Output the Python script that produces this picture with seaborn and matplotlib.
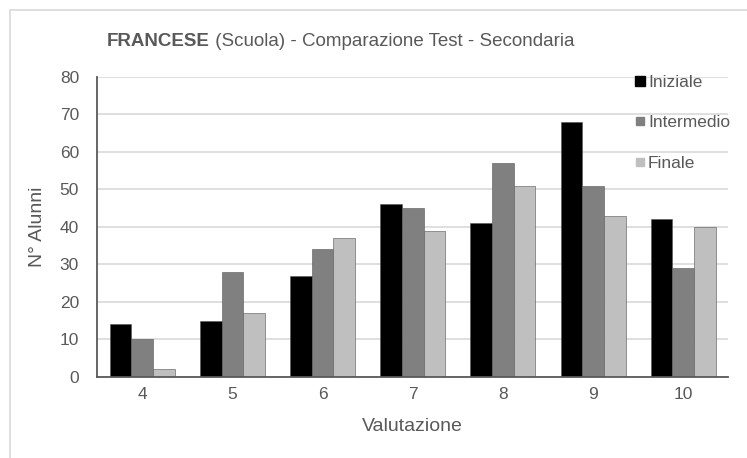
import pandas as pd
import matplotlib.pyplot as plt
import matplotlib.patches as mpatches
from matplotlib.lines import Line2D
import seaborn as sns

# Data
valutazioni = ["4", "5", "6", "7", "8", "9", "10"]
iniziale = [14, 15, 27, 46, 41, 68, 42]
intermedio = [10, 28, 34, 45, 57, 51, 29]
finale = [2, 17, 37, 39, 51, 43, 40]
serie = ["Iniziale", "Intermedio", "Finale"]
colori = ["#000000", "#808080", "#bfbfbf"]

df = pd.DataFrame({
    "Valutazione": valutazioni * 3,
    "Alunni": iniziale + intermedio + finale,
    "Test": [s for s in serie for _ in valutazioni],
})

sns.set_style("white")
plt.rcParams["font.family"] = ["Liberation Sans", "DejaVu Sans"]
txt = "#595959"

fig = plt.figure(figsize=(7.47, 4.58), dpi=100)
ax = fig.add_axes([0.130, 0.177, 0.845, 0.655])

# outer chart border (cropped on right/bottom like the reference)
fig.patches.append(mpatches.Rectangle((10 / 747, -0.1), 1.0, 1.1 - 10 / 458,
                                      transform=fig.transFigure, fill=False,
                                      edgecolor="#d9d9d9", linewidth=1.2))

sns.barplot(data=df, x="Valutazione", y="Alunni", hue="Test", order=valutazioni,
            hue_order=serie, palette=colori, width=0.72, ax=ax,
            edgecolor="#555555", linewidth=0.4, legend=False)

ax.set_ylim(0, 80)
ax.set_yticks(range(0, 81, 10))
ax.yaxis.grid(True, color="#d9d9d9", linewidth=1.2)
ax.set_axisbelow(True)
for s in ["top", "right"]:
    ax.spines[s].set_visible(False)
for s in ["left", "bottom"]:
    ax.spines[s].set_color("#595959")
    ax.spines[s].set_linewidth(1.3)
ax.tick_params(axis="both", length=0, labelsize=12.5, labelcolor=txt, pad=7)
ax.tick_params(axis="y", pad=13)
ax.set_xlabel("Valutazione", fontsize=14, color=txt, labelpad=12)
ax.set_ylabel("N° Alunni", fontsize=14, color=txt, labelpad=10)

handles = [Line2D([], [], marker="s", linestyle="", color=c, markersize=7 if i == 0 else 6)
           for i, c in enumerate(colori)]
leg = ax.legend(handles, serie, loc="upper left", bbox_to_anchor=(0.837, 1.03),
                frameon=False, fontsize=12.5, labelspacing=1.45, handletextpad=0.0,
                handlelength=0.9, borderaxespad=0)
for t in leg.get_texts():
    t.set_color(txt)

# title: bold first word, regular rest
t1 = fig.text(107 / 747, 1 - 41 / 458, "FRANCESE", fontsize=13.5, color=txt,
              fontweight="bold", va="center", ha="left")
fig.canvas.draw()
bb = t1.get_window_extent()
fig.text(bb.x1 / fig.bbox.width, 1 - 41 / 458, " (Scuola) - Comparazione Test - Secondaria",
         fontsize=13.5, color=txt, va="center", ha="left")

fig.savefig("out.png", dpi=100)
